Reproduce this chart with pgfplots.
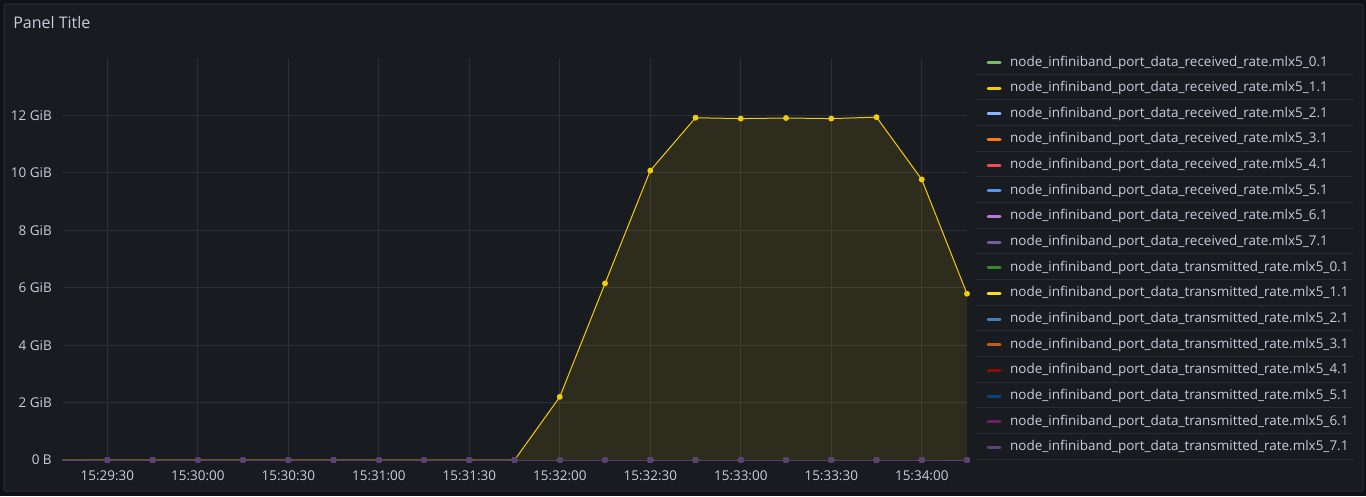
\documentclass[border=0pt]{standalone}
\usepackage{pgfplots}
\pgfplotsset{compat=1.18}
\usepackage{pgfplotstable}
\usepackage{fontspec}
\setmainfont{Open Sans}
\definecolor{outerbg}{HTML}{111217}
\definecolor{panelbg}{HTML}{181B1F}
\definecolor{panelborder}{HTML}{2A2C31}
\definecolor{gridc}{HTML}{2C2F34}
\definecolor{sepc}{HTML}{2A2D32}
\definecolor{txtc}{HTML}{CCCCDC}
\definecolor{gcA}{HTML}{73BF69}
\definecolor{gcB}{HTML}{F2CC0C}
\definecolor{gcC}{HTML}{8AB8FF}
\definecolor{gcD}{HTML}{FF780A}
\definecolor{gcE}{HTML}{F2495C}
\definecolor{gcF}{HTML}{5794F2}
\definecolor{gcG}{HTML}{B877D9}
\definecolor{gcH}{HTML}{705DA0}
\definecolor{gcI}{HTML}{37872D}
\definecolor{gcJ}{HTML}{FADE2A}
\definecolor{gcK}{HTML}{447EBC}
\definecolor{gcL}{HTML}{C15C17}
\definecolor{gcM}{HTML}{890F02}
\definecolor{gcN}{HTML}{0A437C}
\definecolor{gcO}{HTML}{6D1F62}
\definecolor{gcP}{HTML}{584477}

\pgfplotstableread{
t   r0 r1    r2 r3 r4 r5 r6 r7 s0 s1 s2 s3 s4 s5 s6 s7
15  0  0     0  0  0  0  0  0  0  0  0  0  0  0  0  0
30  0  0     0  0  0  0  0  0  0  0  0  0  0  0  0  0
45  0  0     0  0  0  0  0  0  0  0  0  0  0  0  0  0
60  0  0     0  0  0  0  0  0  0  0  0  0  0  0  0  0
75  0  0     0  0  0  0  0  0  0  0  0  0  0  0  0  0
90  0  0     0  0  0  0  0  0  0  0  0  0  0  0  0  0
105 0  0     0  0  0  0  0  0  0  0  0  0  0  0  0  0
120 0  0     0  0  0  0  0  0  0  0  0  0  0  0  0  0
135 0  0     0  0  0  0  0  0  0  0  0  0  0  0  0  0
150 0  0     0  0  0  0  0  0  0  0  0  0  0  0  0  0
165 0  0     0  0  0  0  0  0  0  0  0  0  0  0  0  0
180 0  2.20  0  0  0  0  0  0  0  0  0  0  0  0  0  0
195 0  6.15  0  0  0  0  0  0  0  0  0  0  0  0  0  0
210 0  10.08 0  0  0  0  0  0  0  0  0  0  0  0  0  0
225 0  11.92 0  0  0  0  0  0  0  0  0  0  0  0  0  0
240 0  11.89 0  0  0  0  0  0  0  0  0  0  0  0  0  0
255 0  11.91 0  0  0  0  0  0  0  0  0  0  0  0  0  0
270 0  11.89 0  0  0  0  0  0  0  0  0  0  0  0  0  0
285 0  11.94 0  0  0  0  0  0  0  0  0  0  0  0  0  0
300 0  9.77  0  0  0  0  0  0  0  0  0  0  0  0  0  0
315 0  5.79  0  0  0  0  0  0  0  0  0  0  0  0  0  0
}\data

\begin{document}
\begin{tikzpicture}[x=0.75pt,y=0.75pt]
\useasboundingbox (0,0) rectangle (1366,496);
\fill[outerbg] (0,0) rectangle (1366,496);
\filldraw[fill=panelbg, draw=panelborder, line width=0.75pt, rounded corners=2pt] (4,5) rectangle (1363,492);
\node[anchor=base west, inner sep=0pt, text=txtc, font=\fontsize{12}{14}\selectfont] at (13,467) {Panel Title};
\foreach \k in {0,...,15} {
  \draw[sepc, line width=0.75pt] (976,{496-74.3-25.65*\k}) -- (1353,{496-74.3-25.65*\k});
}
\begin{axis}[
  at={(47.25pt,27pt)}, anchor=south west,
  scale only axis, width=678pt, height=301.5pt,
  xmin=15.3, xmax=315, ymin=0, ymax=14,
  xtick={30,60,...,300},
  xticklabels={15:29:30,15:30:00,15:30:30,15:31:00,15:31:30,15:32:00,15:32:30,15:33:00,15:33:30,15:34:00},
  ytick={0,2,...,12},
  yticklabels={0 B,2 GiB,4 GiB,6 GiB,8 GiB,10 GiB,12 GiB},
  axis line style={draw=none},
  major tick length=0pt,
  grid=major,
  major grid style={draw=gridc, line width=0.75pt},
  ticklabel style={font=\fontsize{10.1}{12}\selectfont, text=txtc},
  yticklabel style={anchor=east, inner sep=0pt, xshift=-8.25pt},
  xticklabel style={anchor=north, inner sep=0pt, yshift=-7.5pt},
  every axis plot/.append style={line width=0.75pt, mark=*, mark size=1.8pt, line join=round},
  legend cell align=left,
  legend image code/.code={\draw[line width=2.25pt, line cap=round] (0pt,0pt) -- (9pt,0pt);},
  legend style={
    at={(axis description cs:1.02157,1.00498)}, anchor=north west,
    draw=none, fill=none, inner sep=0pt, outer sep=0pt,
    font=\fontsize{10.1}{12}\selectfont, text=txtc,
    row sep=9.24pt,
    nodes={inner sep=0pt, text height=7.5pt, text depth=2.5pt},
    /tikz/every odd column/.append style={column sep=6.5pt},
  },
]
\addplot[draw=none, fill=gcB, fill opacity=0.1, mark=none, forget plot] table[x=t,y=r1] {\data} \closedcycle;
\addplot[gcA] table[x=t,y=r0] {\data};
\addplot[gcB] table[x=t,y=r1] {\data};
\addplot[gcC] table[x=t,y=r2] {\data};
\addplot[gcD] table[x=t,y=r3] {\data};
\addplot[gcE] table[x=t,y=r4] {\data};
\addplot[gcF] table[x=t,y=r5] {\data};
\addplot[gcG] table[x=t,y=r6] {\data};
\addplot[gcH] table[x=t,y=r7] {\data};
\addplot[gcI] table[x=t,y=s0] {\data};
\addplot[gcJ] table[x=t,y=s1] {\data};
\addplot[gcK] table[x=t,y=s2] {\data};
\addplot[gcL] table[x=t,y=s3] {\data};
\addplot[gcM] table[x=t,y=s4] {\data};
\addplot[gcN] table[x=t,y=s5] {\data};
\addplot[gcO] table[x=t,y=s6] {\data};
\addplot[gcP] table[x=t,y=s7] {\data};
\legend{
node\_infiniband\_port\_data\_received\_rate.mlx5\_0.1,
node\_infiniband\_port\_data\_received\_rate.mlx5\_1.1,
node\_infiniband\_port\_data\_received\_rate.mlx5\_2.1,
node\_infiniband\_port\_data\_received\_rate.mlx5\_3.1,
node\_infiniband\_port\_data\_received\_rate.mlx5\_4.1,
node\_infiniband\_port\_data\_received\_rate.mlx5\_5.1,
node\_infiniband\_port\_data\_received\_rate.mlx5\_6.1,
node\_infiniband\_port\_data\_received\_rate.mlx5\_7.1,
node\_infiniband\_port\_data\_transmitted\_rate.mlx5\_0.1,
node\_infiniband\_port\_data\_transmitted\_rate.mlx5\_1.1,
node\_infiniband\_port\_data\_transmitted\_rate.mlx5\_2.1,
node\_infiniband\_port\_data\_transmitted\_rate.mlx5\_3.1,
node\_infiniband\_port\_data\_transmitted\_rate.mlx5\_4.1,
node\_infiniband\_port\_data\_transmitted\_rate.mlx5\_5.1,
node\_infiniband\_port\_data\_transmitted\_rate.mlx5\_6.1,
node\_infiniband\_port\_data\_transmitted\_rate.mlx5\_7.1}
\end{axis}
\end{tikzpicture}
\end{document}
